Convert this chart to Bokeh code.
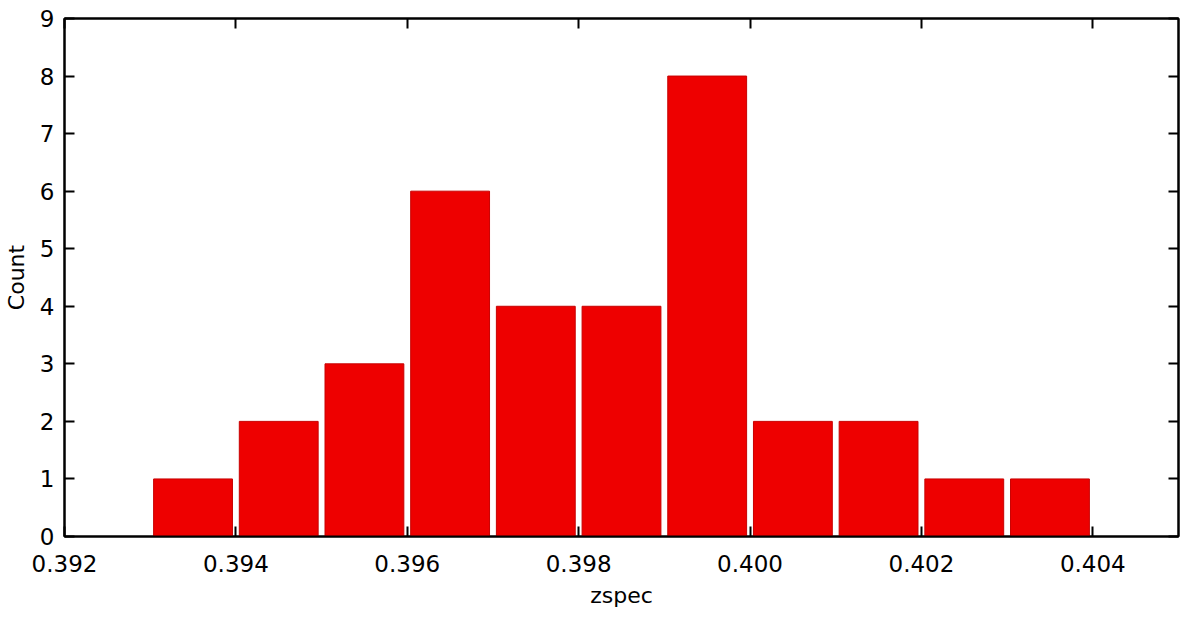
from bokeh.plotting import figure
from bokeh.models import LinearAxis, FixedTicker, NumeralTickFormatter, Range1d, CustomJSTickFormatter
from bokeh.embed import file_html
from bokeh.resources import INLINE

bin_left = [0.393, 0.394, 0.395, 0.396, 0.397, 0.398, 0.399, 0.400, 0.401, 0.402, 0.403]
counts = [1, 2, 3, 6, 4, 4, 8, 2, 2, 1, 1]
bin_width = 0.001
x_ticks = [0.392, 0.394, 0.396, 0.398, 0.400, 0.402, 0.404]
y_ticks = [0, 1, 2, 3, 4, 5, 6, 7, 8, 9]

FONT = "DejaVu Sans"

p = figure(width=1184, height=610, output_backend="svg", toolbar_location=None,
           x_range=Range1d(0.392, 0.405), y_range=Range1d(0, 9),
           min_border_left=10, min_border_right=6, min_border_top=18, min_border_bottom=10)
p.xgrid.visible = False
p.ygrid.visible = False
p.outline_line_color = "black"
p.outline_line_width = 2

gap = 0.00004
lefts = [b + gap for b in bin_left]
rights = [b + bin_width - gap for b in bin_left]
p.quad(left=lefts, right=rights, bottom=0, top=counts,
       fill_color="#ee0000", line_color="#c80000", line_width=1)

def style(ax, labels=True):
    ax.axis_line_width = 2
    ax.axis_line_color = "black"
    ax.major_tick_in = 10
    ax.major_tick_out = 0
    ax.major_tick_line_width = 2
    ax.minor_tick_line_color = None
    ax.major_label_text_font = FONT
    ax.major_label_text_font_size = "23px"
    ax.major_label_text_color = "black"
    ax.axis_label_text_font = FONT
    ax.axis_label_text_font_size = "22px"
    ax.axis_label_text_font_style = "normal"
    ax.axis_label_text_color = "black"
    if not labels:
        ax.formatter = CustomJSTickFormatter(code="return ''")
        ax.major_label_standoff = 0

xa = p.xaxis[0]
xa.ticker = FixedTicker(ticks=x_ticks)
xa.formatter = NumeralTickFormatter(format="0.000")
xa.axis_label = "zspec"
style(xa)
xa.major_label_standoff = 18
xa.axis_label_standoff = 8

ya = p.yaxis[0]
ya.ticker = FixedTicker(ticks=y_ticks)
ya.axis_label = "Count"
style(ya)
ya.major_label_standoff = 10
ya.axis_label_standoff = 8

top = LinearAxis(ticker=FixedTicker(ticks=x_ticks))
style(top, labels=False)
p.add_layout(top, "above")
right = LinearAxis(ticker=FixedTicker(ticks=y_ticks))
style(right, labels=False)
p.add_layout(right, "right")

open("out.html", "w").write(file_html(p, INLINE))
